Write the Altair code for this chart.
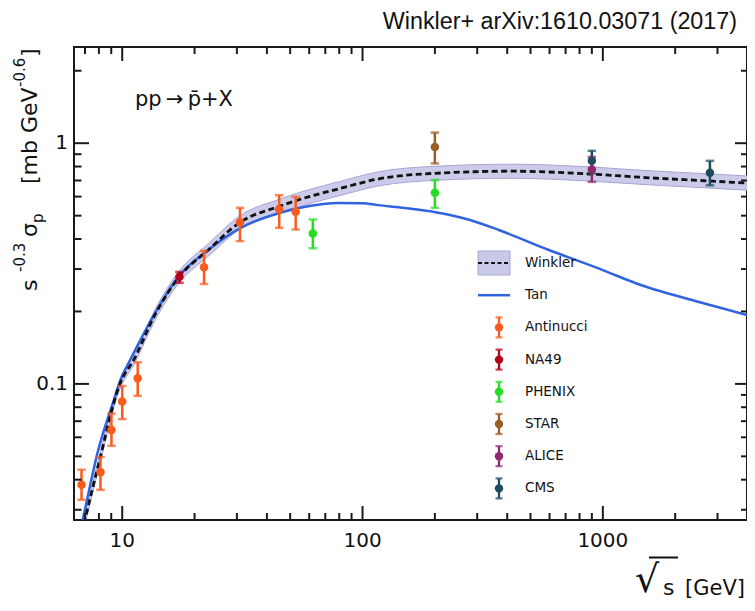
import altair as alt
import pandas as pd

# ---------------- data ----------------
winkler_x = [6.8, 7.0, 7.99, 9.78, 11.18, 13.7, 17.3, 22.8, 31, 44.7, 60, 79, 116, 201, 417, 900, 1500, 2843, 3980]
winkler_y = [0.024, 0.0272, 0.0468, 0.1, 0.126, 0.194, 0.279, 0.36, 0.47, 0.545, 0.6, 0.645, 0.71, 0.75, 0.765, 0.744, 0.72, 0.696, 0.683]
winkler_lo = [0.0229, 0.026, 0.0446, 0.0952, 0.12, 0.184, 0.264, 0.339, 0.441, 0.51, 0.561, 0.603, 0.664, 0.701, 0.715, 0.695, 0.673, 0.65, 0.638]
winkler_hi = [0.0252, 0.0286, 0.0491, 0.105, 0.132, 0.204, 0.295, 0.382, 0.501, 0.583, 0.642, 0.69, 0.76, 0.802, 0.818, 0.796, 0.77, 0.745, 0.731]

tan_x = [6.6, 6.87, 7.95, 9.24, 9.97, 10.8, 13.7, 17.1, 22.8, 31, 44.7, 60, 79, 100, 116, 150, 201, 280, 369, 596, 1000, 1372, 2512, 3980]
tan_y = [0.0232, 0.0277, 0.0532, 0.0858, 0.107, 0.126, 0.197, 0.278, 0.36, 0.444, 0.512, 0.548, 0.564, 0.563, 0.553, 0.538, 0.517, 0.48, 0.436, 0.36, 0.297, 0.262, 0.219, 0.193]

antinucci_x = [6.77, 8.12, 9.02, 10.0, 11.6, 21.9, 30.9, 45.0, 52.7]
antinucci_y = [0.0381, 0.043, 0.0644, 0.0845, 0.1056, 0.305, 0.469, 0.531, 0.519]
antinucci_lo = [0.033, 0.0363, 0.0553, 0.0714, 0.0892, 0.26, 0.392, 0.445, 0.438]
antinucci_hi = [0.044, 0.0497, 0.0753, 0.098, 0.123, 0.357, 0.539, 0.608, 0.599]

na49_x = [17.3]
na49_y = [0.279]
na49_lo = [0.263]
na49_hi = [0.292]

phenix_x = [62.1, 200]
phenix_y = [0.422, 0.622]
phenix_lo = [0.366, 0.539]
phenix_hi = [0.482, 0.703]

star_x = [200]
star_y = [0.965]
star_lo = [0.824]
star_hi = [1.107]

alice_x = [900]
alice_y = [0.778]
alice_lo = [0.691]
alice_hi = [0.877]

cms_x = [900, 2790]
cms_y = [0.845, 0.753]
cms_lo = [0.749, 0.668]
cms_hi = [0.93, 0.845]

dataset_names = ["Antinucci", "NA49", "PHENIX", "STAR", "ALICE", "CMS"]
dataset_colors = ["#fa5a1c", "#b3001b", "#22dd22", "#9b5d27", "#8e2a6e", "#1e4c5c"]
model_names = ["Winkler", "Tan"]

x_major = [10, 100, 1000]
x_tick_labels = ["10", "100", "1000"]
x_minor = [7, 8, 9, 20, 30, 40, 50, 60, 70, 80, 90, 200, 300, 400, 500, 600, 700, 800, 900, 2000, 3000]
y_major = [0.1, 1]
y_tick_labels = ["0.1", "1"]
y_minor = [0.03, 0.04, 0.05, 0.06, 0.07, 0.08, 0.09, 0.2, 0.3, 0.4, 0.5, 0.6, 0.7, 0.8, 0.9, 2]

# ---------------- layout / style ----------------
W, H = 673, 473
FRAME = "#1a1a1a"
INK = "#111111"
BAND = "#c9c9e9"
BAND_EDGE = "#a5a5d6"
TAN_BLUE = "#2f63e0"

xscale = alt.Scale(type="log", domain=[6.3, 3980], nice=False)
yscale = alt.Scale(type="log", domain=[0.0272, 2.51], nice=False)

wdf = pd.DataFrame({"x": winkler_x, "y": winkler_y, "lo": winkler_lo, "hi": winkler_hi})
tdf = pd.DataFrame({"x": tan_x, "y": tan_y})

rows = []
for name, xs, ys, los, his in [
    ("Antinucci", antinucci_x, antinucci_y, antinucci_lo, antinucci_hi),
    ("NA49", na49_x, na49_y, na49_lo, na49_hi),
    ("PHENIX", phenix_x, phenix_y, phenix_lo, phenix_hi),
    ("STAR", star_x, star_y, star_lo, star_hi),
    ("ALICE", alice_x, alice_y, alice_lo, alice_hi),
    ("CMS", cms_x, cms_y, cms_lo, cms_hi),
]:
    for a, b, c, d in zip(xs, ys, los, his):
        rows.append({"dataset": name, "x": a, "y": b, "lo": c, "hi": d,
                     "order": dataset_names.index(name)})
ddf = pd.DataFrame(rows)

color = alt.Color("dataset:N", scale=alt.Scale(domain=dataset_names, range=dataset_colors), legend=None)
X = lambda f: alt.X(f, scale=xscale, axis=None)
Y = lambda f: alt.Y(f, scale=yscale, axis=None)

band = alt.Chart(wdf).mark_area(color=BAND, opacity=0.95, interpolate="monotone", clip=True).encode(
    x=X("x:Q"), y=Y("lo:Q"), y2="hi:Q")
band_lo = alt.Chart(wdf).mark_line(color=BAND_EDGE, strokeWidth=1, interpolate="monotone", clip=True).encode(
    x=X("x:Q"), y=Y("lo:Q"))
band_hi = alt.Chart(wdf).mark_line(color=BAND_EDGE, strokeWidth=1, interpolate="monotone", clip=True).encode(
    x=X("x:Q"), y=Y("hi:Q"))

tan_line = alt.Chart(tdf).mark_line(color=TAN_BLUE, strokeWidth=2.5, interpolate="monotone", clip=True).encode(
    x=X("x:Q"), y=Y("y:Q"))

winkler_line = alt.Chart(wdf).mark_line(color=INK, strokeWidth=2.8, strokeDash=[6, 3.5],
                                        interpolate="monotone", clip=True).encode(x=X("x:Q"), y=Y("y:Q"))

err_rule = alt.Chart(ddf).mark_rule(strokeWidth=2.5).encode(
    x=X("x:Q"), y=Y("lo:Q"), y2="hi:Q", color=color)
cap_lo = alt.Chart(ddf).mark_tick(orient="horizontal", size=8.5, thickness=2.5).encode(
    x=X("x:Q"), y=Y("lo:Q"), color=color)
cap_hi = alt.Chart(ddf).mark_tick(orient="horizontal", size=8.5, thickness=2.5).encode(
    x=X("x:Q"), y=Y("hi:Q"), color=color)
dots = alt.Chart(ddf).mark_circle(size=72, opacity=1).encode(
    x=X("x:Q"), y=Y("y:Q"), color=color, order="order:Q")


def xticks(vals, y0, y1):
    return alt.Chart(pd.DataFrame({"v": vals})).mark_rule(color=FRAME, strokeWidth=2).encode(
        x=X("v:Q"), y=alt.value(y0), y2=alt.value(y1))


def yticks(vals, x0, x1):
    return alt.Chart(pd.DataFrame({"v": vals})).mark_rule(color=FRAME, strokeWidth=2).encode(
        y=Y("v:Q"), x=alt.value(x0), x2=alt.value(x1))


tick_layers = [
    xticks(x_major, H, H - 14), xticks(x_minor, H, H - 7),
    xticks(x_major, 0, 14), xticks(x_minor, 0, 7),
    yticks(y_major, 0, 15), yticks(y_minor, 0, 7.5),
    yticks(y_major, W, W - 12), yticks(y_minor, W, W - 6),
]

# tick labels placed through the scales
xlab = alt.Chart(pd.DataFrame({"v": x_major, "t": x_tick_labels})).mark_text(
    baseline="top", align="center", font="DejaVu Sans", fontSize=20, color=INK).encode(
    x=X("v:Q"), y=alt.value(H + 11), text="t:N")
ylab = alt.Chart(pd.DataFrame({"v": y_major, "t": y_tick_labels})).mark_text(
    baseline="middle", align="right", font="DejaVu Sans", fontSize=20, color=INK).encode(
    y=Y("v:Q"), x=alt.value(-6), text="t:N")


def label(text, x, y, size, font="DejaVu Sans", align="left", angle=0, baseline="alphabetic"):
    return alt.Chart(pd.DataFrame({"t": [text]})).mark_text(
        align=align, baseline=baseline, angle=angle, font=font, fontSize=size, color=INK
    ).encode(x=alt.value(x), y=alt.value(y), text="t:N")


texts = [
    label("Winkler+ arXiv:1610.03071 (2017)", 663, -18, 23.3, font="Liberation Sans", align="right"),
    label("pp\u2009\u2192\u2009p\u0304+X", 61, 59, 21),
    # y-axis title pieces (rotated)
    label("s", -37.5, 244, 22, angle=270),
    label("-0.3", -49, 225, 15, angle=270),
    label("\u03c3", -37.5, 190, 22, angle=270),
    label("p", -31, 176, 15, angle=270),
    label("[mb GeV", -37.5, 137, 22, angle=270),
    label("-0.6", -49, 40, 15, angle=270),
    label("]", -37.5, 10, 22, angle=270),
    # x-axis title
    label("\u221a", 561, 545, 38),
    label("s", 589, 548, 22),
    label("[GeV]", 611, 548, 21),
]
overbar = alt.Chart(pd.DataFrame({"t": [0]})).mark_rule(color=INK, strokeWidth=2).encode(
    x=alt.value(575), x2=alt.value(604), y=alt.value(510.5))

main = alt.layer(band, band_lo, band_hi, tan_line, winkler_line, err_rule, cap_lo, cap_hi, dots,
                 *tick_layers, xlab, ylab, *texts, overbar)

# ---------------- manual legend ----------------
leg_rows = model_names + dataset_names
ldf = pd.DataFrame({"name": leg_rows, "row": list(range(len(leg_rows)))})
ly = alt.Y("row:Q", scale=alt.Scale(domain=[0, 7], range=[216, 216 + 7 * 32.2]), axis=None)
lcolor = alt.Color("name:N", scale=alt.Scale(domain=dataset_names, range=dataset_colors), legend=None)
lbase = alt.Chart(ldf)

leg_text = lbase.mark_text(align="left", baseline="middle", font="DejaVu Sans", fontSize=13.5,
                           color=INK).encode(x=alt.value(451), y=ly, text="name:N")
leg_band = lbase.transform_filter("datum.name == 'Winkler'").mark_rect(
    color=BAND, stroke=BAND_EDGE, strokeWidth=1, yOffset=-12, y2Offset=12).encode(
    x=alt.value(404), x2=alt.value(436), y=ly, y2="row:Q")
leg_dash = lbase.transform_filter("datum.name == 'Winkler'").mark_rule(
    color=INK, strokeWidth=2.2, strokeDash=[4, 2.5]).encode(x=alt.value(404), x2=alt.value(436), y=ly)
leg_tan = lbase.transform_filter("datum.name == 'Tan'").mark_rule(
    color=TAN_BLUE, strokeWidth=2.5).encode(x=alt.value(404), x2=alt.value(436), y=ly)

ldata = lbase.transform_filter("datum.row >= 2")
leg_err = ldata.mark_rule(strokeWidth=2.3, yOffset=-10, y2Offset=10).encode(
    x=alt.value(425), y=ly, y2="row:Q", color=lcolor)
leg_cap1 = ldata.mark_tick(orient="horizontal", size=7, thickness=2.3, yOffset=-10).encode(
    x=alt.value(425), y=ly, color=lcolor)
leg_cap2 = ldata.mark_tick(orient="horizontal", size=7, thickness=2.3, yOffset=10).encode(
    x=alt.value(425), y=ly, color=lcolor)
leg_dot = ldata.mark_circle(size=70, opacity=1).encode(x=alt.value(425), y=ly, color=lcolor)

legend = alt.layer(leg_band, leg_dash, leg_tan, leg_err, leg_cap1, leg_cap2, leg_dot, leg_text)

chart = alt.layer(main, legend).resolve_scale(y="independent").properties(
    width=W, height=H,
    padding={"left": 66, "top": 39, "right": 0, "bottom": 83},
    autosize=alt.AutoSizeParams(type="none"),
).configure_view(stroke=FRAME, strokeWidth=2)

chart.save("out.html", embed_options={"renderer": "svg", "actions": False})
